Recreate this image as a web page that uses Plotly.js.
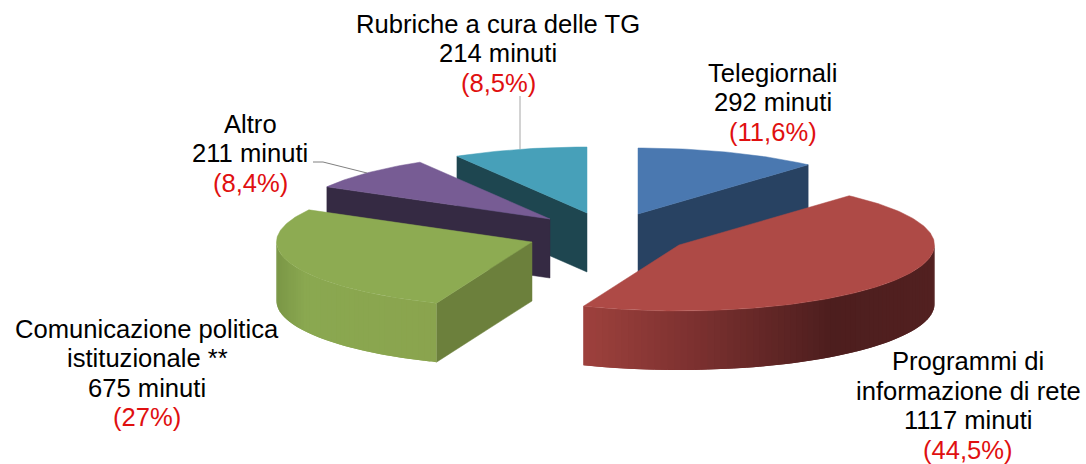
<!DOCTYPE html>
<html>
<head>
<meta charset="utf-8">
<script src="https://cdn.plot.ly/plotly-3.0.1.min.js"></script>
<style>html,body{margin:0;padding:0;background:#fff}#chart{width:1086px;height:464px}</style>
</head>
<body>
<div id="chart"></div>
<script>
// ---- data ----
const categories = ["Telegiornali", "Programmi di<br>informazione di rete", "Comunicazione politica<br>istituzionale **", "Altro", "Rubriche a cura delle TG"];
const minutes = [292, 1117, 675, 211, 214];
const percents = [11.6, 44.5, 27, 8.4, 8.5];

// ---- 3D projection and style (not data) ----
const RX = 255.5, RY = 66, DEPTH = 59;
const apexX = [638, 679, 532, 550, 587];
const apexY = [214, 245, 242, 219, 213];
const topColor = ["#4a78b0", "#ae4a46", "#8dab52", "#775c94", "#47a0b9"];
const cutColor = ["#284262", "", "#6c803c", "#352a43", "#1e4650"];
const wallStops = [[], [[582,[158,65,61]],[700,[122,48,47]],[830,[77,30,30]],[935,[82,32,32]]],
                   [[276,[122,150,70]],[305,[138,168,80]],[435,[138,164,78]]], [], []];
const drawOrder = [4, 3, 0, 2, 1];
const labelX = [772.5, 968, 147, 250, 498];
const labelTop = [72.5, 361, 328.5, 123.5, 23.5];
const LINE_STEP = 29.5, FONT_SIZE = 25.6;
const FONT = "Liberation Sans, Arial, sans-serif";

function wallColor(i, x) {
  const s = wallStops[i];
  if (!s.length) return cutColor[i];
  let a = s[0], b = s[s.length - 1];
  for (let k = 0; k < s.length - 1; k++) if (x >= s[k][0] && x <= s[k + 1][0]) { a = s[k]; b = s[k + 1]; }
  const t = Math.max(0, Math.min(1, (x - a[0]) / ((b[0] - a[0]) || 1)));
  return "rgb(" + a[1].map((v, j) => Math.round(v + (b[1][j] - v) * t)).join(",") + ")";
}
const rad = d => d * Math.PI / 180;
const px = (i, d) => apexX[i] + RX * Math.sin(rad(d));
const py = (i, d) => apexY[i] - RY * Math.cos(rad(d));

const total = percents.reduce((a, b) => a + b, 0);
const startA = [], endA = [];
let acc = 0;
percents.forEach((p, i) => { startA[i] = acc; acc += p / total * 360; endA[i] = acc; });

function poly(xs, ys, color, name, lw) {
  return { type: "scatter", mode: "lines", x: [...xs, xs[0]], y: [...ys, ys[0]], fill: "toself",
           fillcolor: color, line: { color: color, width: lw }, hoverinfo: "skip", name: name, showlegend: false };
}

const traces = [];
drawOrder.forEach(i => {
  const s = startA[i], e = endA[i], name = categories[i];
  const cut = d => poly([apexX[i], px(i, d), px(i, d), apexX[i]],
                        [apexY[i], py(i, d), py(i, d) + DEPTH, apexY[i] + DEPTH], cutColor[i], name, 0.5);
  if (s > 180) traces.push(cut(s));
  if (e < 180) traces.push(cut(e));
  // outer wall: overlapping steps, painted along the angle, so no seams show
  const a0 = Math.max(s, 90), a1 = Math.min(e, 270);
  if (a1 > a0) {
    const n = Math.ceil((a1 - a0) / 1.5);
    const at = k => a0 + (a1 - a0) * Math.min(k, n) / n;
    for (let k = 0; k < n; k++) {
      const ds = [at(k), at(k + 0.5), at(k + 1), at(k + 1.5), at(k + 2)];
      const xs = ds.map(d => px(i, d)), yt = ds.map(d => py(i, d));
      const c = wallColor(i, (px(i, at(k)) + px(i, at(k + 1))) / 2);
      traces.push(poly([...xs, ...xs.slice().reverse()], [...yt, ...yt.slice().reverse().map(y => y + DEPTH)], c, name, 0));
    }
  }
  const xs = [apexX[i]], ys = [apexY[i]];
  for (let d = s; d < e; d += 1) { xs.push(px(i, d)); ys.push(py(i, d)); }
  xs.push(px(i, e)); ys.push(py(i, e));
  traces.push(poly(xs, ys, topColor[i], name, 0.5));
});

const annotations = [];
categories.forEach((c, i) => {
  const lines = c.split("<br>").map(t => [t, "#000"]);
  lines.push([minutes[i] + " minuti", "#000"]);
  lines.push(["(" + String(percents[i]).replace(".", ",") + "%)", "#e01010"]);
  lines.forEach((l, k) => annotations.push({
    x: labelX[i], y: labelTop[i] + k * LINE_STEP, xref: "x", yref: "y", showarrow: false,
    xanchor: "center", yanchor: "middle", text: l[0],
    font: { family: FONT, size: FONT_SIZE, color: l[1] }
  }));
});

const layout = {
  width: 1086, height: 464, margin: { l: 0, r: 0, t: 0, b: 0 },
  paper_bgcolor: "#fff", plot_bgcolor: "#fff", showlegend: false,
  xaxis: { range: [0, 1086], visible: false, fixedrange: true },
  yaxis: { range: [464, 0], visible: false, fixedrange: true },
  annotations: annotations,
  shapes: [
    { type: "path", path: "M 520 96 L 520 149", xref: "x", yref: "y", line: { color: "#a6a6a6", width: 1 } },
    { type: "path", path: "M 313 162 L 323 162 L 367 173", xref: "x", yref: "y", line: { color: "#808080", width: 1 } }
  ]
};
Plotly.newPlot("chart", traces, layout, { displayModeBar: false, staticPlot: true });
</script>
</body>
</html>
